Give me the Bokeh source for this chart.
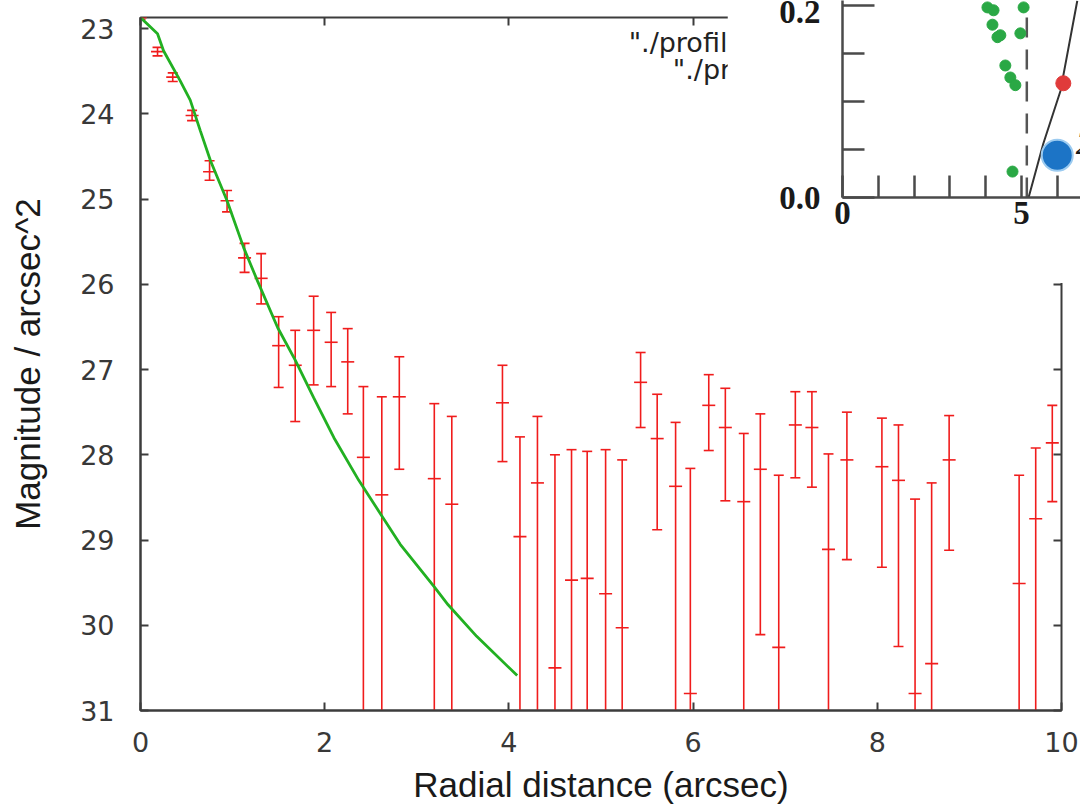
from bokeh.plotting import figure
from bokeh.models import Range1d, LinearAxis, FixedTicker, Label, NumeralTickFormatter, CustomJSTickFormatter
from bokeh.embed import file_html
from bokeh.resources import INLINE

# ---------------- main chart data (surface-brightness profile) ----------------
radius = [0.00, 0.185, 0.35, 0.56, 0.75, 0.94, 1.13, 1.31, 1.50, 1.68, 1.88, 2.07, 2.25,
          2.42, 2.62, 2.81, 3.19, 3.38, 3.93, 4.12, 4.31, 4.50, 4.68, 4.85, 5.05, 5.23,
          5.43, 5.61, 5.81, 5.97, 6.17, 6.35, 6.55, 6.73, 6.93, 7.11, 7.29, 7.47, 7.67,
          8.05, 8.23, 8.41, 8.59, 8.78, 9.54, 9.72, 9.90]
mag = [22.87, 23.27, 23.57, 24.02, 24.68, 25.02, 25.69, 25.93, 26.72, 26.95, 26.54, 26.68, 26.91,
       28.03, 28.47, 27.32, 28.28, 28.58, 27.39, 28.96, 28.33, 30.50, 29.47, 29.45, 29.63, 30.03,
       27.15, 27.81, 28.37, 30.80, 27.42, 27.68, 28.55, 28.17, 30.26, 27.65, 27.68, 29.11, 28.06,
       28.14, 28.30, 30.80, 30.45, 28.06, 29.51, 28.75, 27.86]
# bright (upper) end of each error bar
mag_bright = [22.85, 23.22, 23.52, 23.96, 24.55, 24.90, 25.52, 25.64, 26.38, 26.54, 26.14, 26.33, 26.52,
              27.20, 27.32, 26.85, 27.40, 27.55, 26.95, 27.79, 27.55, 28.00, 27.94, 27.96, 27.94, 28.06,
              26.80, 27.29, 27.62, 28.16, 27.06, 27.22, 27.75, 27.52, 28.24, 27.26, 27.26, 27.99, 27.50,
              27.57, 27.65, 28.52, 28.33, 27.54, 28.24, 27.92, 27.42]
# faint (lower) end of each error bar (33 = beyond the plotted range)
mag_faint = [22.89, 23.32, 23.62, 24.08, 24.78, 25.15, 25.86, 26.23, 27.21, 27.61, 27.18, 27.20, 27.52,
             33.0, 33.0, 28.17, 33.0, 33.0, 28.08, 33.0, 33.0, 33.0, 33.0, 33.0, 33.0, 33.0,
             27.68, 28.88, 33.0, 33.0, 27.95, 28.54, 33.0, 30.11, 33.0, 28.27, 28.38, 33.0, 29.23,
             29.32, 30.25, 33.0, 33.0, 29.12, 33.0, 33.0, 28.55]

# model profile (green curve)
model_r = [0.00, 0.185, 0.25, 0.43, 0.54, 0.65, 0.76, 0.94, 1.12, 1.27, 1.49, 1.68, 1.88,
           2.10, 2.37, 2.61, 2.82, 3.19, 3.34, 3.65, 4.09]
model_mag = [22.87, 23.06, 23.26, 23.61, 23.84, 24.20, 24.55, 25.02, 25.57, 25.96, 26.51, 26.89, 27.33,
             27.80, 28.30, 28.70, 29.05, 29.55, 29.76, 30.13, 30.59]

x_ticks = [0, 2, 4, 6, 8, 10]
y_ticks = [23, 24, 25, 26, 27, 28, 29, 30, 31]
legend_lines = ['"./profile.dat" using 1:2:3', '"./profile_fit.dat"']

# ---------------- inset (pasted fragment of another chart) ----------------
inset_green_x = [4.05, 4.22, 5.06, 4.19, 4.41, 4.33, 4.97, 4.55, 4.69, 4.83, 4.75]
inset_green_y = [0.198, 0.195, 0.198, 0.180, 0.169, 0.167, 0.171, 0.1375, 0.125, 0.117, 0.027]
inset_red_x = [6.17]
inset_red_y = [0.119]
inset_blue_x = [6.00]
inset_blue_y = [0.044]
inset_curve_x = [5.20, 5.61, 6.09, 6.56]
inset_curve_y = [0.000, 0.056, 0.111, 0.205]
inset_dash_x = [5.15, 5.15]
inset_dash_y = [0.0, 0.19]
inset_x_ticks = [0, 5]
inset_x_minor = [1, 2, 3, 4, 6]
inset_y_ticks = [0.0, 0.2]
inset_y_minor = [0.05, 0.10, 0.15]

AXIS_COL = "#3c3c3c"
TICK_FONT = "DejaVu Sans"
RED = "#f01c1c"
GREEN = "#22b022"

p = figure(width=1080, height=810, x_range=Range1d(0, 10), y_range=Range1d(31, 22.87),
           output_backend="svg", toolbar_location=None,
           min_border_left=140, min_border_right=19, min_border_top=17, min_border_bottom=100)
p.grid.visible = False
p.background_fill_color = "white"
p.border_fill_color = "white"
p.outline_line_color = AXIS_COL
p.outline_line_width = 2

for ax, ticks in ((p.xaxis[0], x_ticks), (p.yaxis[0], y_ticks)):
    ax.ticker = FixedTicker(ticks=ticks)
    ax.major_tick_in = 8
    ax.major_tick_out = 0
    ax.minor_tick_in = 0
    ax.minor_tick_out = 0
    ax.axis_line_color = AXIS_COL
    ax.axis_line_width = 2
    ax.major_tick_line_color = AXIS_COL
    ax.major_tick_line_width = 2
    ax.major_label_text_font = TICK_FONT
    ax.major_label_text_font_size = "27px"
    ax.major_label_text_color = "#383838"
    ax.axis_label_text_font = "Liberation Sans"
    ax.axis_label_text_font_size = "35px"
    ax.axis_label_text_font_style = "normal"
    ax.axis_label_text_color = "#1a1a1a"

p.xaxis[0].axis_label = "Radial distance (arcsec)"
p.xaxis[0].major_label_standoff = 21
p.xaxis[0].axis_label_standoff = 10
p.yaxis[0].axis_label = "Magnitude / arcsec^2"
p.yaxis[0].major_label_standoff = 26
p.yaxis[0].axis_label_standoff = 30

blank = CustomJSTickFormatter(code="return ''")
for loc, ticks in (("above", x_ticks), ("right", y_ticks)):
    m = LinearAxis(ticker=FixedTicker(ticks=ticks), formatter=blank,
                   major_tick_in=8, major_tick_out=0, minor_tick_in=0, minor_tick_out=0,
                   axis_line_color=None, major_tick_line_color=AXIS_COL, major_tick_line_width=2,
                   major_label_standoff=0)
    p.add_layout(m, loc)

# error bars
p.segment(x0=radius, y0=mag_bright, x1=radius, y1=mag_faint, line_color=RED, line_width=1.6)
p.scatter(x=radius, y=mag_bright, marker="dash", size=10, line_color=RED, line_width=1.6)
p.scatter(x=radius, y=mag_faint, marker="dash", size=10, line_color=RED, line_width=1.6)
p.scatter(x=radius, y=mag, marker="dash", size=13, line_color=RED, line_width=1.6)

# model curve
p.line(model_r, model_mag, line_color=GREEN, line_width=2.8)

# gnuplot key (partly hidden beneath the pasted inset)
p.add_layout(Label(x=5.30, y=23.16, text=legend_lines[0], text_font="DejaVu Sans",
                   text_font_size="27px", text_color="#222222", text_baseline="alphabetic"))
p.add_layout(Label(x=5.78, y=23.48, text=legend_lines[1], text_font="DejaVu Sans",
                   text_font_size="27px", text_color="#222222", text_baseline="alphabetic"))

# ---------------- inset figure ----------------
ins = figure(width=353, height=283, x_range=Range1d(0, 6.65), y_range=Range1d(0, 0.2052),
             output_backend="svg", toolbar_location=None,
             min_border_left=115, min_border_right=0, min_border_top=0, min_border_bottom=86)
ins.grid.visible = False
ins.outline_line_color = None
ins.background_fill_color = "white"
ins.border_fill_color = "white"

INSET_AX = "#4a4a4a"
xa = ins.xaxis[0]
xa.ticker = FixedTicker(ticks=inset_x_ticks, minor_ticks=inset_x_minor)
ya = ins.yaxis[0]
ya.ticker = FixedTicker(ticks=inset_y_ticks, minor_ticks=inset_y_minor)
ya.formatter = NumeralTickFormatter(format="0.0")
for ax in (xa, ya):
    ax.axis_line_color = INSET_AX
    ax.axis_line_width = 2.5
    ax.major_tick_line_color = INSET_AX
    ax.major_tick_line_width = 2.5
    ax.minor_tick_line_color = INSET_AX
    ax.minor_tick_line_width = 2.5
    ax.major_tick_out = 0
    ax.minor_tick_out = 0
    ax.minor_tick_in = 22
    ax.major_label_text_font = "Liberation Serif"
    ax.major_label_text_font_style = "bold"
    ax.major_label_text_font_size = "33px"
    ax.major_label_text_color = "#1a1a1a"
xa.major_tick_in = 22
xa.major_label_standoff = 4
ya.major_tick_in = 32
ya.major_label_standoff = 22

ins.line(inset_dash_x, inset_dash_y, line_color="#555555", line_width=2.5, line_dash="20 12")
ins.line(inset_curve_x, inset_curve_y, line_color="#333333", line_width=2)
ins.scatter(inset_green_x, inset_green_y, size=11, fill_color="#2aa845", line_color="#2aa845")
ins.scatter(inset_red_x, inset_red_y, size=15, fill_color="#e03b3b", line_color="#e03b3b")
ins.scatter(inset_blue_x, inset_blue_y, size=31, fill_color="#1c74c6", line_color="#9ccbf0", line_width=2)
ins.add_layout(Label(x=6.52, y=0.045, text="2", text_font="Liberation Serif", text_font_size="33px",
                     text_font_style="italic", text_color="#1a1a1a"))

# overlay the inset on the top-right corner of the main chart (separate root, no frame alignment)
ins.margin = (-810, 0, 0, 727)

open("out.html", "w").write(file_html([p, ins], INLINE))
